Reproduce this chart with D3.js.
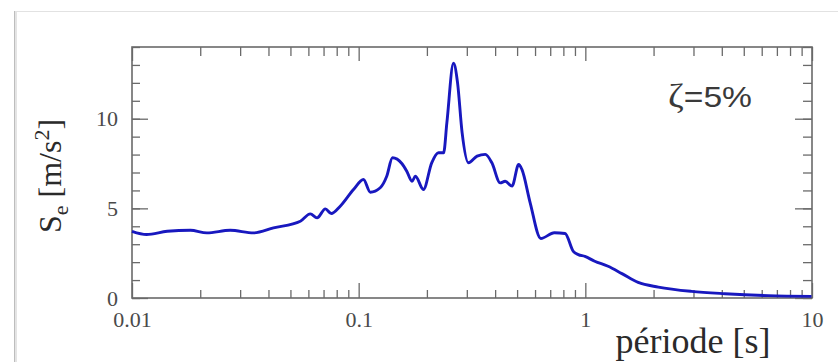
<!DOCTYPE html>
<html>
<head>
<meta charset="utf-8">
<script src="https://cdn.jsdelivr.net/npm/d3@7"></script>
<style>
  html, body { margin: 0; padding: 0; background: #fff; }
  #svg_container { width: 838px; height: 362px; overflow: hidden; }
  .tick text { font-family: "Liberation Serif", "DejaVu Serif", serif; }
</style>
</head>
<body>
<div id="svg_container"></div>
<script>
// response spectrum, 5% damping: period [s] vs spectral acceleration [m/s^2]
let periods = [0.01, 0.0116, 0.0143, 0.0181, 0.0214, 0.0271, 0.0344, 0.0421, 0.0553, 0.0612,
    0.0655, 0.0713, 0.0757, 0.0829, 0.0949, 0.105, 0.1125, 0.1245, 0.133, 0.141,
    0.155, 0.163, 0.172, 0.178, 0.193, 0.210, 0.225, 0.237, 0.245, 0.262,
    0.273, 0.286, 0.305, 0.333, 0.362, 0.387, 0.421, 0.443, 0.475, 0.508,
    0.525, 0.571, 0.636, 0.73, 0.814, 0.885, 0.931, 0.996, 1.10, 1.26,
    1.45, 1.71, 2.10, 2.94, 4.13, 6.41, 9.95];
let accel = [3.72, 3.54, 3.72, 3.78, 3.63, 3.78, 3.63, 3.91, 4.28, 4.69,
    4.47, 4.97, 4.71, 5.12, 6.05, 6.61, 5.90, 6.15, 6.79, 7.82,
    7.50, 7.07, 6.51, 6.79, 6.05, 7.54, 8.10, 8.10, 9.78, 13.09,
    12.01, 9.22, 7.54, 7.91, 8.01, 7.54, 6.42, 6.51, 6.24, 7.45,
    7.17, 5.31, 3.32, 3.64, 3.60, 2.60, 2.42, 2.32, 2.05, 1.77,
    1.36, 0.87, 0.61, 0.37, 0.24, 0.13, 0.09];

let xMajor = [0.01, 0.1, 1, 10];
let xLabels = ['0.01', '0.1', '1', '10'];
let yMajor = [0, 5, 10];
let yMinor = d3.range(0, 15);

document.addEventListener('DOMContentLoaded', function (e) {
    let width = 838, height = 362;
    let margin = { top: 47, right: 26, bottom: 64, left: 132 };

    let svg = d3.select('#svg_container').append('svg')
        .attr('width', width)
        .attr('height', height);

    // faint page frame
    svg.append('line')
        .attr('x1', 14).attr('x2', width).attr('y1', 11.5).attr('y2', 11.5)
        .attr('stroke', '#e2e2e2').attr('stroke-width', 1);
    svg.append('line')
        .attr('x1', 15.5).attr('x2', 15.5).attr('y1', 12).attr('y2', height)
        .attr('stroke', '#e4e4e4').attr('stroke-width', 3);
    svg.append('line')
        .attr('x1', 14.5).attr('x2', 14.5).attr('y1', 11).attr('y2', height)
        .attr('stroke', '#bdbdbd').attr('stroke-width', 1);

    let x = d3.scaleLog()
        .domain([0.01, 10])
        .range([margin.left, width - margin.right]);
    let y = d3.scaleLinear()
        .domain([0, 14])
        .range([height - margin.bottom, margin.top]);

    // minor ticks in each decade
    let xMinor = [];
    for (let d of [0.01, 0.1, 1]) {
        for (let k = 2; k <= 9; k++) xMinor.push(d * k);
    }

    let axisColor = '#6a6a6a';
    function styleAxis(g) {
        g.select('.domain').remove();
        g.selectAll('.tick line').attr('stroke', axisColor).attr('stroke-width', 1.3);
        g.selectAll('.tick text').attr('fill', '#4a4a4a').attr('font-size', 22);
    }

    let y0 = height - margin.bottom;
    let x0 = margin.left, x1 = width - margin.right;

    // bottom
    svg.append('g').attr('transform', `translate(0,${y0})`)
        .call(d3.axisBottom(x).tickValues(xMinor).tickSize(-8).tickFormat(''))
        .call(styleAxis);
    svg.append('g').attr('transform', `translate(0,${y0})`)
        .call(d3.axisBottom(x).tickValues(xMajor).tickSize(-15).tickPadding(13)
            .tickFormat((d, i) => xLabels[i]))
        .call(styleAxis);
    // top
    svg.append('g').attr('transform', `translate(0,${margin.top})`)
        .call(d3.axisTop(x).tickValues(xMinor).tickSize(-9).tickFormat(''))
        .call(styleAxis);
    svg.append('g').attr('transform', `translate(0,${margin.top})`)
        .call(d3.axisTop(x).tickValues(xMajor).tickSize(-14).tickFormat(''))
        .call(styleAxis);
    // left
    svg.append('g').attr('transform', `translate(${x0},0)`)
        .call(d3.axisLeft(y).tickValues(yMinor).tickSize(-8).tickFormat(''))
        .call(styleAxis);
    svg.append('g').attr('transform', `translate(${x0},0)`)
        .call(d3.axisLeft(y).tickValues(yMajor).tickSize(-16).tickPadding(14)
            .tickFormat(d3.format('d')))
        .call(styleAxis);
    // right
    svg.append('g').attr('transform', `translate(${x1},0)`)
        .call(d3.axisRight(y).tickValues(yMinor).tickSize(-9).tickFormat(''))
        .call(styleAxis);
    svg.append('g').attr('transform', `translate(${x1},0)`)
        .call(d3.axisRight(y).tickValues(yMajor).tickSize(-17).tickFormat(''))
        .call(styleAxis);

    // frame
    svg.append('rect')
        .attr('x', x0).attr('y', margin.top)
        .attr('width', x1 - x0).attr('height', y0 - margin.top)
        .attr('fill', 'none').attr('stroke', axisColor).attr('stroke-width', 1.6);

    // the spectrum
    let points = periods.map((p, i) => ({ t: p, a: accel[i] }));
    let lineGenerator = d3.line()
        .x(d => x(d.t))
        .y(d => y(d.a))
        .curve(d3.curveMonotoneX);
    svg.append('path')
        .datum(points)
        .attr('d', lineGenerator)
        .attr('fill', 'none')
        .attr('stroke', '#1818bf')
        .attr('stroke-width', 2.9)
        .attr('stroke-linejoin', 'round');

    // axis titles
    svg.append('text')
        .attr('x', 693).attr('y', 353)
        .attr('text-anchor', 'middle')
        .attr('font-family', '"Liberation Serif", serif')
        .attr('font-size', 36)
        .attr('fill', '#2a2a2a')
        .text('période [s]');

    let ylab = svg.append('text')
        .attr('transform', 'translate(61,176) rotate(-90)')
        .attr('text-anchor', 'middle')
        .attr('font-family', '"Liberation Serif", serif')
        .attr('font-size', 32)
        .attr('fill', '#2a2a2a');
    ylab.append('tspan').text('S');
    ylab.append('tspan').attr('font-size', 22).attr('dy', 7).text('e');
    ylab.append('tspan').attr('dy', -7).text(' [m/s');
    ylab.append('tspan').attr('font-size', 22).attr('dy', -12).text('2');
    ylab.append('tspan').attr('dy', 12).text(']');

    let zeta = svg.append('text')
        .attr('x', 668).attr('y', 107)
        .attr('font-size', 30)
        .attr('textLength', 84)
        .attr('lengthAdjust', 'spacingAndGlyphs')
        .attr('fill', '#3a3a3a');
    zeta.append('tspan').attr('font-family', '"Liberation Serif", serif').attr('font-size', 34).text('ζ');
    zeta.append('tspan').attr('font-family', '"Liberation Sans", sans-serif').text('=5%');
});
</script>
</body>
</html>
